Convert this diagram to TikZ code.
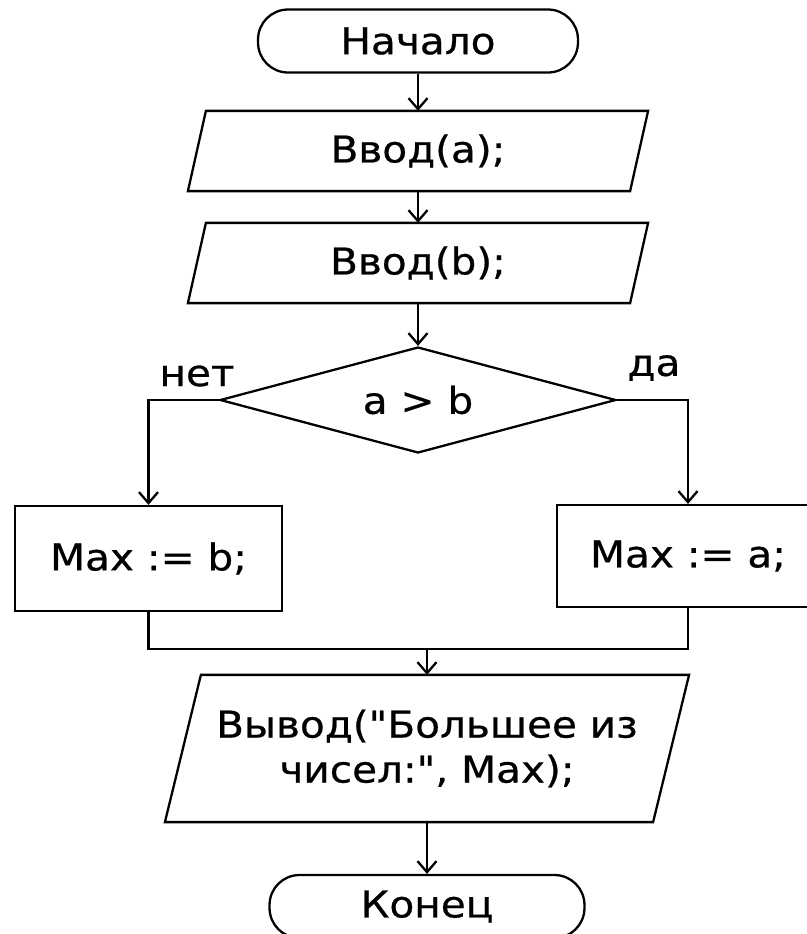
\documentclass[tikz,border=0pt]{standalone}
\usepackage{fontspec}
\setmainfont{DejaVu Sans}[FakeStretch=1.1,FakeBold=0.6,Ligatures=TeXOff]
\usetikzlibrary{shapes.geometric,arrows.meta}
\def\flowfont{\fontsize{21}{25.6}\selectfont}
\def\ioshape#1#2{\draw ([xshift=#2]#1.north west) -- ([xshift=#2]#1.north east)
  -- ([xshift=-#2]#1.south east) -- ([xshift=-#2]#1.south west) -- cycle;}

\begin{document}
\begin{tikzpicture}[x=0.02cm,y=-0.02cm,line width=1.3pt,
    every node/.style={font=\flowfont},
    term/.style={draw,rectangle,rounded corners=0.6cm,minimum width=6.4cm,minimum height=1.26cm},
    iobox/.style={rectangle,minimum height=1.56cm},
    procbox/.style={draw,rectangle,minimum height=2.1cm},
    decide/.style={draw,diamond,aspect=3.74,inner sep=0pt,minimum width=7.92cm,minimum height=2.12cm},
    flow/.style={-{Straight Barb[length=2.2mm,width=3.8mm]}}]
  \useasboundingbox (0,0) rectangle (806,934);

  \node[term] (start) at (418,41) {Начало};
  \node[iobox,minimum width=8.8cm] (ina) at (418,151) {Ввод(a);};
  \ioshape{ina}{0.18cm}
  \node[iobox,minimum width=8.8cm] (inb) at (418,263) {Ввод(b);};
  \ioshape{inb}{0.18cm}
  \node[decide] (cond) at (418,400) {a > b};
  \node (nolbl) at (197,376) {нет};
  \node (yeslbl) at (654,368) {да};

  \node[procbox,minimum width=5.34cm] (nobox) at (148.5,558.5) {Max := b;};
  \node[procbox,minimum width=5.24cm,minimum height=2.04cm] (yesbox) at (688,556) {Max := a;};
  \coordinate (join) at (427,649);

  \node[iobox,minimum width=9.72cm,minimum height=2.9cm,align=center] (outp) at (427,748.5)
    {Вывод("Большее из\\чисел:", Max);};
  \ioshape{outp}{0.36cm}
  \node[term,minimum width=6.3cm] (stop) at (427,906.5) {Конец};

  % connectors
  \draw[flow] (start.south) -- (ina.north);
  \draw[flow] (ina.south) -- (inb.north);
  \draw[flow] (inb.south) -- (cond.north);
  \draw[flow] (cond.west) -| (nobox.north);
  \draw[flow] (cond.east) -| (yesbox.north);
  \draw (nobox.south) |- (join) -| (yesbox.south);
  \draw[flow] (join) -- (outp.north);
  \draw[flow] (outp.south) -- (stop.north);
\end{tikzpicture}
\end{document}
